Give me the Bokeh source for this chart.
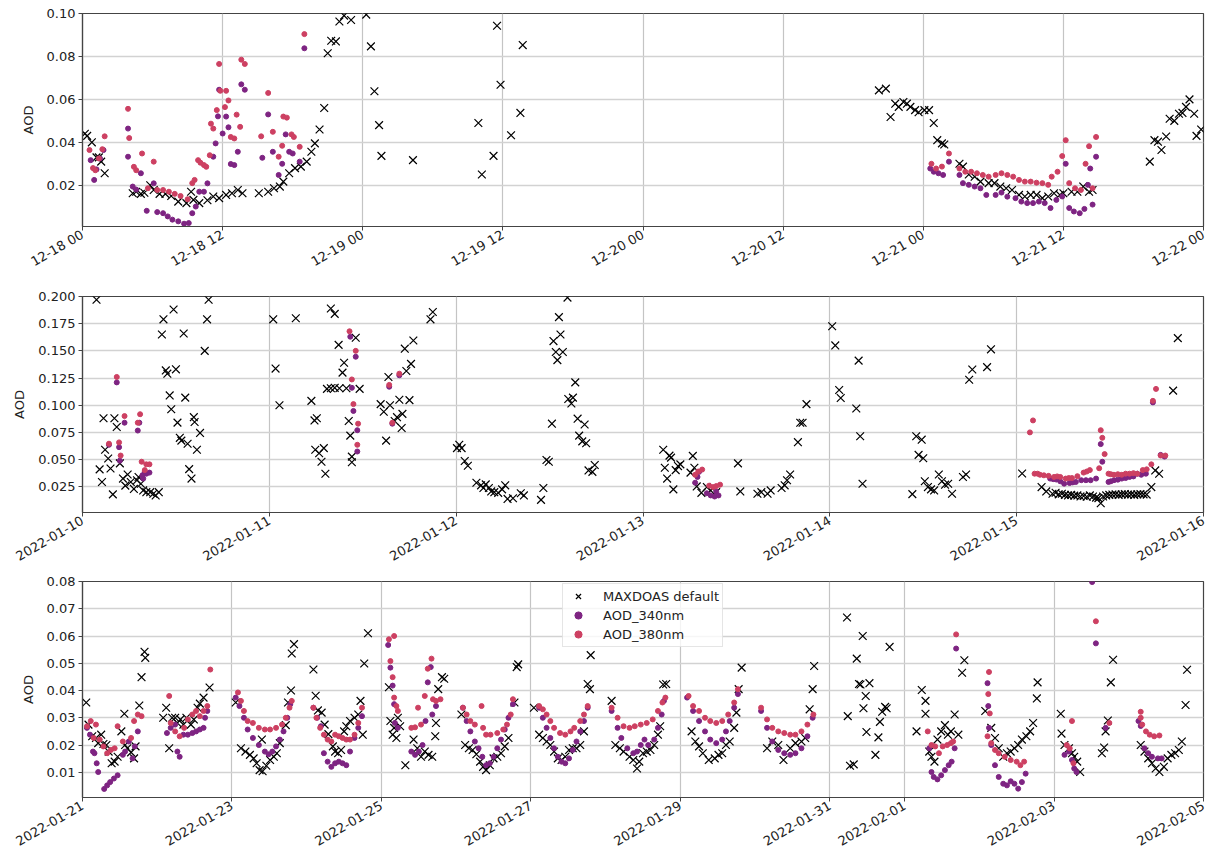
import pandas as pd
from math import pi
from bokeh.plotting import figure
from bokeh.layouts import column
from bokeh.models import (Range1d, FixedTicker, DatetimeTickFormatter,
                          NumeralTickFormatter, Legend, LegendItem)
from bokeh.embed import file_html
from bokeh.resources import INLINE

# ---------------- Panel 1: 2021-12-18 .. 2021-12-22 (hours since 12-18 00) -------------
p1_base = "2021-12-18 00:00"
p1_max_h = [0.2, 0.4, 0.8, 1.2, 1.4, 1.6, 1.9,
            4.3, 4.6, 5.0, 5.3, 5.8, 6.1, 6.6, 7.1, 7.6, 8.2, 8.9, 9.3, 9.5, 10.0, 10.7, 11.2, 11.7, 12.3, 12.8, 13.3, 13.7,
            15.1, 15.9, 16.4, 16.9, 17.2, 17.7, 18.2, 18.7, 19.2, 19.6, 19.9, 20.3, 20.7, 21.0, 21.3, 21.7, 22.0, 22.4, 23.0,
            24.3, 24.7, 25.0, 25.4, 25.6, 28.3, 33.9, 34.2, 35.2, 35.5, 35.8, 36.7, 37.5, 37.7,
            68.2, 68.8, 69.2, 69.6, 69.9, 70.3, 70.6, 70.9, 71.3, 71.6, 72.1, 72.5, 72.9, 73.2, 73.6, 73.8,
            75.1, 75.4, 75.9, 76.4, 76.9, 77.6, 78.1, 78.6, 79.1, 79.6, 80.2, 80.7, 81.2, 81.7, 82.2, 82.7, 83.2, 83.7, 84.0, 84.7, 85.2, 85.7, 86.2, 86.5,
            91.4, 91.8, 92.1, 92.4, 92.8, 93.1, 93.5, 93.9, 94.2, 94.5, 94.8, 95.2, 95.4, 95.8]
p1_max_v = [0.044, 0.043, 0.040, 0.033, 0.033, 0.031, 0.0256,
            0.0163, 0.017, 0.016, 0.0165, 0.020, 0.0178, 0.016, 0.016, 0.015, 0.0124, 0.0117, 0.017, 0.0132, 0.0117, 0.013, 0.0148, 0.014, 0.0155, 0.0163, 0.0178, 0.0163,
            0.0163, 0.017, 0.0186, 0.0194, 0.0217, 0.0256, 0.028, 0.0287, 0.031, 0.0356, 0.0395, 0.046, 0.056, 0.0815, 0.0873, 0.087, 0.0963, 0.099, 0.097,
            0.0995, 0.0847, 0.0638, 0.048, 0.0337, 0.0317, 0.049, 0.025, 0.0337, 0.0943, 0.0668, 0.0433, 0.0537, 0.0853,
            0.0642, 0.065, 0.0518, 0.058, 0.0565, 0.0588, 0.058, 0.0565, 0.055, 0.054, 0.055, 0.055, 0.049, 0.041, 0.0395, 0.039,
            0.030, 0.0287, 0.025, 0.024, 0.0217, 0.021, 0.021, 0.0194, 0.0186, 0.0178, 0.0155, 0.0148, 0.0155, 0.0155, 0.014, 0.0148, 0.0163, 0.0155, 0.0163, 0.017, 0.017, 0.0194, 0.017, 0.0178,
            0.031, 0.041, 0.0403, 0.0364, 0.0427, 0.051, 0.050, 0.0533, 0.0537, 0.0565, 0.060, 0.0533, 0.043, 0.046]
p1_340_h = [0.7, 1.0, 1.2, 1.5, 1.8,
            3.9, 3.9, 4.3, 4.6, 5.0, 5.5, 6.1, 6.4, 6.9, 7.3, 7.7, 8.2, 8.7, 9.1, 9.4, 9.7, 10.0, 10.4, 10.7, 11.2, 11.4, 11.6, 11.7, 12.0, 12.3, 12.5, 12.7, 13.0, 13.3, 13.6, 13.9,
            15.4, 15.9, 16.3, 16.8, 17.1, 17.4, 17.7, 18.0, 18.6, 19.0,
            72.6, 72.9, 73.3, 73.7, 74.2, 75.1, 75.4, 75.9, 76.4, 76.9, 77.4, 78.2, 78.7, 79.2, 79.9, 80.4, 80.9, 81.4, 81.9, 82.4, 82.9, 83.4, 83.9, 84.2, 84.5, 84.9, 85.4, 85.8, 86.1, 86.3, 86.5, 86.8]
p1_340_v = [0.0317, 0.0225, 0.0274, 0.0325, 0.0364,
            0.0464, 0.0333, 0.0194, 0.018, 0.0256, 0.0081, 0.0209, 0.0075, 0.007, 0.0055, 0.004, 0.0032, 0.0021, 0.0024, 0.007, 0.0101, 0.017, 0.017, 0.0209, 0.0333, 0.0395, 0.0521, 0.0645, 0.0441, 0.052, 0.047, 0.0299, 0.0294, 0.0356, 0.067, 0.0645,
            0.0328, 0.053, 0.0356, 0.0248, 0.030, 0.0437, 0.0356, 0.0348, 0.031, 0.0838,
            0.0278, 0.0263, 0.0256, 0.0248, 0.031, 0.0248, 0.021, 0.0202, 0.0194, 0.0186, 0.0155, 0.0155, 0.0166, 0.0147, 0.014, 0.0124, 0.0117, 0.0117, 0.0124, 0.0117, 0.0094, 0.0132, 0.0148, 0.030, 0.0094, 0.0078, 0.007, 0.009, 0.0202, 0.0278, 0.011, 0.0333]
p1_380_h = [0.6, 0.9, 1.1, 1.4, 1.7, 1.9,
            3.9, 4.0, 4.4, 4.6, 5.1, 5.6, 6.1, 6.4, 6.9, 7.4, 7.9, 8.4, 9.0, 9.4, 9.6, 9.9, 10.1, 10.4, 10.6, 10.9, 11.0, 11.2, 11.5, 11.7, 11.8, 12.2, 12.3, 12.5, 12.7, 13.0, 13.2, 13.5, 13.6, 13.9,
            15.3, 15.9, 16.3, 16.8, 17.1, 17.2, 17.5, 17.9, 18.1, 18.6, 19.0,
            72.7, 73.1, 73.6, 74.2, 75.1, 75.6, 76.1, 76.6, 77.1, 77.6, 78.2, 78.7, 79.2, 79.7, 80.2, 80.7, 81.2, 81.7, 82.2, 82.7, 83.0, 83.5, 83.9, 84.2, 84.5, 85.0, 85.5, 85.9, 86.2, 86.5, 86.8]
p1_380_v = [0.0364, 0.028, 0.027, 0.0325, 0.0368, 0.0428,
            0.0556, 0.042, 0.0286, 0.027, 0.0348, 0.0186, 0.031, 0.0178, 0.0178, 0.017, 0.016, 0.015, 0.0135, 0.021, 0.0225, 0.0317, 0.0305, 0.0294, 0.0286, 0.034, 0.0487, 0.0464, 0.055, 0.0765, 0.064, 0.0564, 0.064, 0.0595, 0.0425, 0.0418, 0.0529, 0.0472, 0.0785, 0.0765,
            0.0428, 0.063, 0.0449, 0.0333, 0.0384, 0.052, 0.0515, 0.0437, 0.0425, 0.0379, 0.0904,
            0.030, 0.0278, 0.0287, 0.0348, 0.0278, 0.0263, 0.0263, 0.0256, 0.0248, 0.024, 0.0248, 0.0256, 0.0248, 0.024, 0.0225, 0.0217, 0.0217, 0.0212, 0.021, 0.0202, 0.024, 0.0263, 0.0336, 0.041, 0.021, 0.0186, 0.0178, 0.030, 0.0382, 0.0186, 0.0425]

# ---------------- Panel 2: 2022-01-10 .. 2022-01-16 (hours since 01-10 00) -------------
p2_base = "2022-01-10 00:00"
p2_max_h = [1.8, 2.2, 2.5, 2.7, 2.9, 3.3, 3.6, 3.9, 4.1, 4.4, 4.8, 5.2, 5.5, 5.8, 6.2, 6.6, 7.0, 7.2, 7.5, 7.8, 8.2, 8.7, 9.1, 9.4, 9.8,
            10.2, 10.4, 10.7, 10.9, 11.2, 11.4, 11.7, 12.0, 12.2, 12.5, 12.7, 13.0, 13.2, 13.5, 13.7, 14.0, 14.3, 14.4, 14.7, 15.1, 15.7, 16.0, 16.2,
            24.5, 24.8, 25.3, 27.4, 29.4, 29.8, 29.9, 30.1, 30.4, 30.7, 31.0, 31.2, 31.4, 31.9, 31.9, 32.4, 32.4, 32.9, 33.0, 33.4, 33.6, 33.9, 34.2, 34.4, 34.6,
            34.6, 35.1, 35.6, 38.3, 38.7, 39.0, 39.3, 39.5, 40.1, 40.4, 40.7, 41.0, 41.1, 41.4, 41.6, 42.0, 42.2, 42.5, 44.7, 45.0,
            48.1, 48.4, 48.7, 49.1, 49.5, 50.6, 51.2, 51.5, 51.8, 52.2, 52.5, 52.9, 53.4, 53.9, 54.3, 54.6, 55.3, 56.3, 56.7, 58.9,
            59.2, 59.6, 59.9, 60.3, 60.5, 60.8, 61.0, 61.2, 61.4, 61.7, 62.3, 62.4, 62.8, 63.0, 63.3, 63.6, 63.8, 64.2, 64.5, 64.7, 65.0, 65.5, 65.8,
            74.6, 74.8, 75.1, 75.4, 75.6, 75.9, 76.2, 76.5, 76.8, 78.1, 78.4, 78.6, 78.9, 79.5, 80.2, 80.7, 81.4, 84.2, 84.5, 86.7,
            87.2, 88.0, 88.4, 89.8, 90.2, 90.5, 90.9, 91.9, 92.2, 92.5, 93.0,
            96.3, 96.7, 97.2, 97.4, 99.4, 99.7, 99.9, 100.2, 106.6, 107.1, 107.4, 107.8, 108.0, 108.2, 108.6, 109.0, 109.4, 110.0, 110.4, 110.8,
            111.2, 111.7, 113.1, 113.5, 113.9, 114.3, 116.2, 116.7,
            120.7, 123.2, 123.8, 124.6, 125.0, 125.4, 125.8, 126.2, 126.6, 127.0, 127.4, 127.8, 128.2, 128.6, 129.0, 129.4, 129.8, 130.2, 130.5, 130.8,
            131.1, 131.5, 131.9, 132.3, 132.7, 133.1, 133.5, 133.9, 134.3, 134.7, 135.1, 135.5, 135.9, 136.3, 136.7, 137.3, 137.8, 138.3, 140.1, 140.7]
p2_max_v = [0.197, 0.041, 0.0294, 0.088, 0.059, 0.051, 0.0418, 0.018, 0.088, 0.080, 0.0465, 0.0325, 0.026, 0.0362, 0.0294, 0.023, 0.031, 0.034, 0.0278, 0.0216, 0.020, 0.020, 0.0185, 0.017, 0.020,
            0.165, 0.179, 0.132, 0.129, 0.109, 0.0963, 0.188, 0.133, 0.084, 0.070, 0.0674, 0.166, 0.107, 0.0646, 0.0412, 0.0325, 0.089, 0.0845, 0.059, 0.0745, 0.150, 0.179, 0.197,
            0.179, 0.1337, 0.100, 0.180, 0.104, 0.086, 0.059, 0.088, 0.0558, 0.048, 0.0605, 0.037, 0.115, 0.1156, 0.189, 0.184, 0.116, 0.1555, 0.1156, 0.130, 0.139, 0.1156, 0.0855, 0.072, 0.0527,
            0.0475, 0.162, 0.115, 0.101, 0.094, 0.0674, 0.126, 0.100, 0.0855, 0.089, 0.105, 0.079, 0.092, 0.152, 0.1315, 0.1047, 0.138, 0.1595, 0.179, 0.1857,
            0.0605, 0.0636, 0.0605, 0.0487, 0.0443, 0.0287, 0.0263, 0.0238, 0.0272, 0.0238, 0.0207, 0.020, 0.0194, 0.0226, 0.0263, 0.0138, 0.0144, 0.019, 0.017, 0.0129,
            0.0238, 0.0496, 0.048, 0.083, 0.159, 0.149, 0.1415, 0.181, 0.165, 0.149, 0.199, 0.1057, 0.1016, 0.107, 0.121, 0.0876, 0.072, 0.0667, 0.0823, 0.065, 0.040, 0.0387, 0.045,
            0.059, 0.0425, 0.0325, 0.0536, 0.0518, 0.0226, 0.0403, 0.044, 0.0456, 0.038, 0.0534, 0.0425, 0.0253, 0.0194, 0.0247, 0.0216, 0.020, 0.0465, 0.0207, 0.0185,
            0.020, 0.0185, 0.0216, 0.0238, 0.0263, 0.031, 0.0363, 0.066, 0.0839, 0.0839, 0.101,
            0.1726, 0.155, 0.114, 0.1066, 0.097, 0.141, 0.0714, 0.0278, 0.0182, 0.0714, 0.0543, 0.0683, 0.0512, 0.030, 0.0247, 0.0226, 0.0216, 0.0363, 0.030, 0.0269,
            0.0278, 0.0185, 0.034, 0.0363, 0.1234, 0.1328, 0.135, 0.1514,
            0.0372, 0.0247, 0.0207, 0.0185, 0.0195, 0.018, 0.0185, 0.0175, 0.017, 0.0175, 0.0168, 0.017, 0.016, 0.0165, 0.0158, 0.017, 0.016, 0.015, 0.0145, 0.0098,
            0.016, 0.017, 0.0175, 0.0178, 0.018, 0.0175, 0.018, 0.0182, 0.0178, 0.018, 0.0175, 0.018, 0.0182, 0.018, 0.0178, 0.0247, 0.040, 0.037, 0.1134, 0.1617]
p2_340_h = [3.4, 4.4, 4.7, 4.8, 5.4, 7.1, 7.3, 7.7, 7.8, 8.0, 8.2, 8.6,
            34.4, 34.6, 34.8, 35.1, 35.3, 35.3, 39.4, 39.8, 40.7,
            78.7, 79.0, 79.2, 80.2, 80.7, 81.2, 81.4, 81.7,
            124.3, 125.1, 126.1, 126.8, 127.6, 128.3, 129.5, 130.8, 131.0, 131.8, 132.5, 133.5, 134.5, 135.5, 137.5, 138.5, 139.0,
            124.7, 125.6, 127.2, 128.9, 130.2, 132.1, 133.0, 134.0, 135.0, 136.0, 136.6]
p2_340_v = [0.0636, 0.121, 0.0614, 0.049, 0.0839, 0.0767, 0.0839, 0.0356, 0.0325, 0.0387, 0.037, 0.038,
            0.163, 0.116, 0.0947, 0.1446, 0.077, 0.0574, 0.117, 0.083, 0.1275,
            0.0287, 0.034, 0.0387, 0.019, 0.017, 0.016, 0.0207, 0.017,
            0.0325, 0.0316, 0.0278, 0.0284, 0.0294, 0.031, 0.031, 0.0642, 0.048, 0.0294, 0.031, 0.0325, 0.034, 0.037, 0.1026, 0.0543, 0.0527,
            0.032, 0.030, 0.029, 0.031, 0.0325, 0.030, 0.0315, 0.033, 0.0345, 0.036, 0.037]
p2_380_h = [3.4, 4.4, 4.7, 4.9, 5.4, 7.1, 7.4, 7.6, 8.0, 8.2, 8.6,
            34.3, 34.6, 34.8, 35.1, 35.4, 35.3, 39.4, 39.8, 40.7,
            78.7, 79.1, 79.6, 80.5, 81.0, 81.4, 81.9,
            121.7, 122.1, 122.3, 122.7, 124.1, 124.8, 125.6, 126.3, 127.1, 127.8, 128.6, 129.4, 130.6, 130.8, 131.0,
            131.3, 131.8, 132.5, 133.5, 134.5, 135.5, 136.2, 137.3, 137.5, 137.9, 138.5, 139.1,
            123.0, 123.5, 125.2, 126.7, 129.0, 132.1, 133.0, 134.0, 135.0, 136.7]
p2_380_v = [0.0646, 0.126, 0.0658, 0.0537, 0.090, 0.0839, 0.0917, 0.048, 0.0403, 0.0456, 0.0456,
            0.168, 0.1237, 0.101, 0.150, 0.083, 0.0636, 0.1187, 0.0839, 0.129,
            0.036, 0.039, 0.0408, 0.026, 0.0247, 0.0256, 0.0269,
            0.075, 0.086, 0.037, 0.037, 0.035, 0.034, 0.034, 0.0325, 0.033, 0.0347, 0.038, 0.0403, 0.042, 0.077, 0.070,
            0.055, 0.037, 0.036, 0.036, 0.037, 0.037, 0.0403, 0.0456, 0.104, 0.115, 0.0537, 0.0537,
            0.036, 0.0355, 0.0345, 0.033, 0.039, 0.0365, 0.0365, 0.037, 0.0375, 0.041]

# ---------------- Panel 3: 2022-01-21 .. 2022-02-05 (days since 01-21) -------------
p3_base = "2022-01-21 00:00"
p3_max_d = [0.05, 0.08, 0.13, 0.18, 0.21, 0.25, 0.28, 0.32, 0.35, 0.39, 0.43, 0.47, 0.52, 0.56, 0.57, 0.60, 0.65, 0.69, 0.71, 0.76, 0.79, 0.83, 0.84,
            1.08, 1.12, 1.16, 1.20, 1.24, 1.27, 1.31, 1.35, 1.39, 1.45, 1.49, 1.54, 1.57, 1.62, 1.70,
            2.05, 2.12, 2.18, 2.24, 2.29, 2.33, 2.37, 2.40, 2.41, 2.46, 2.51, 2.56, 2.60, 2.64, 2.72, 2.75, 2.79, 2.80, 2.83,
            3.09, 3.12, 3.15, 3.20, 3.24, 3.29, 3.35, 3.38, 3.42, 3.46, 3.50, 3.53, 3.58, 3.64, 3.69, 3.72, 3.75, 3.77, 3.82,
            4.10, 4.12, 4.15, 4.17, 4.20, 4.22, 4.25, 4.32, 4.43, 4.48, 4.53, 4.58, 4.63, 4.68, 4.72, 4.73, 4.76, 4.81, 4.84,
            5.07, 5.12, 5.17, 5.22, 5.27, 5.32, 5.36, 5.40, 5.45, 5.50, 5.55, 5.60, 5.65, 5.70, 5.78, 5.81, 5.83,
            6.04, 6.11, 6.16, 6.21, 6.26, 6.31, 6.36, 6.41, 6.46, 6.51, 6.56, 6.61, 6.66, 6.71, 6.76, 6.79, 6.80,
            7.08, 7.13, 7.19, 7.24, 7.32, 7.37, 7.42, 7.45, 7.50, 7.55, 7.60, 7.65, 7.70, 7.73, 7.77, 7.81,
            8.15, 8.20, 8.25, 8.30, 8.38, 8.46, 8.51, 8.56, 8.61, 8.66, 8.72, 8.75, 8.78, 8.82,
            9.16, 9.23, 9.31, 9.38, 9.47, 9.54, 9.62, 9.67, 9.73, 9.77, 9.79,
            10.23, 10.24, 10.27, 10.32, 10.36, 10.39, 10.41, 10.44, 10.45, 10.48, 10.49, 10.53, 10.61, 10.65, 10.67, 10.70, 10.74, 10.76, 10.80,
            11.16, 11.23, 11.28, 11.28, 11.33, 11.36, 11.40, 11.44, 11.49, 11.54, 11.58, 11.62, 11.67, 11.72, 11.77, 11.80,
            12.08, 12.16, 12.21, 12.26, 12.32, 12.37, 12.42, 12.47, 12.52, 12.57, 12.63, 12.68, 12.72, 12.77, 12.78,
            13.09, 13.10, 13.14, 13.20, 13.24, 13.27, 13.31, 13.35, 13.64, 13.67, 13.69, 13.72, 13.76, 13.79,
            14.16, 14.21, 14.26, 14.31, 14.36, 14.41, 14.47, 14.52, 14.57, 14.62, 14.67, 14.71, 14.76, 14.78]
p3_max_v = [0.0356, 0.0275, 0.0232, 0.0226, 0.0207, 0.0238, 0.0204, 0.020, 0.0176, 0.0133, 0.0139, 0.0157, 0.025, 0.0315, 0.020, 0.0188, 0.0173, 0.0151, 0.0195, 0.0345, 0.0449, 0.0542, 0.052,
            0.030, 0.0337, 0.0188, 0.030, 0.030, 0.0281, 0.0294, 0.0275, 0.030, 0.0275, 0.0294, 0.0337, 0.0352, 0.0374, 0.0411,
            0.0356, 0.0188, 0.0176, 0.0164, 0.0151, 0.0133, 0.0108, 0.022, 0.0104, 0.0124, 0.0145, 0.0157, 0.017, 0.0207, 0.0273, 0.0356, 0.040, 0.0536, 0.057,
            0.0477, 0.0381, 0.0327, 0.0319, 0.0275, 0.024, 0.0195, 0.0176, 0.017, 0.0182, 0.025, 0.0269, 0.0288, 0.030, 0.0312, 0.0362, 0.0238, 0.0499, 0.061,
            0.0412, 0.0288, 0.0238, 0.0263, 0.0226, 0.030, 0.0269, 0.0126, 0.022, 0.0188, 0.0157, 0.0176, 0.0164, 0.0157, 0.0232, 0.0281, 0.0405, 0.0449, 0.0443,
            0.0312, 0.020, 0.0188, 0.0182, 0.0166, 0.0139, 0.012, 0.0108, 0.0126, 0.0151, 0.0157, 0.017, 0.0195, 0.0226, 0.0356, 0.0486, 0.0496,
            0.0337, 0.0238, 0.0226, 0.0213, 0.020, 0.0176, 0.0151, 0.0145, 0.0157, 0.0182, 0.0188, 0.0188, 0.020, 0.025, 0.0424, 0.0405, 0.053,
            0.0362, 0.020, 0.0188, 0.0176, 0.0157, 0.0145, 0.0114, 0.0139, 0.017, 0.0176, 0.0182, 0.020, 0.0238, 0.0269, 0.0422, 0.0424,
            0.025, 0.0213, 0.0195, 0.017, 0.0145, 0.0151, 0.0164, 0.017, 0.020, 0.0213, 0.0263, 0.0319, 0.0405, 0.0484,
            0.0188, 0.0213, 0.020, 0.0145, 0.0188, 0.0207, 0.0213, 0.0226, 0.0331, 0.0405, 0.049,
            0.0668, 0.0306, 0.0124, 0.0129, 0.0517, 0.0424, 0.0422, 0.060, 0.0335, 0.038, 0.0248, 0.0427, 0.0164, 0.0228, 0.0285, 0.0322, 0.034, 0.0335, 0.056,
            0.025, 0.0402, 0.0362, 0.0315, 0.0176, 0.0157, 0.0139, 0.022, 0.025, 0.0273, 0.0238, 0.025, 0.0312, 0.0238, 0.0465, 0.0511,
            0.0325, 0.0263, 0.0226, 0.0188, 0.0157, 0.017, 0.0176, 0.0188, 0.020, 0.022, 0.0232, 0.025, 0.0281, 0.0371, 0.043,
            0.0315, 0.0242, 0.020, 0.0188, 0.017, 0.0157, 0.0139, 0.0101, 0.017, 0.0191, 0.025, 0.029, 0.043, 0.0513,
            0.020, 0.0176, 0.0151, 0.0133, 0.0114, 0.0101, 0.012, 0.0151, 0.0164, 0.017, 0.0182, 0.0213, 0.0347, 0.0476]
p3_340_d = [0.06, 0.10, 0.14, 0.16, 0.19, 0.21, 0.29, 0.33, 0.37, 0.42, 0.47, 0.54, 0.57, 0.62, 0.67, 0.70, 0.74,
            1.13, 1.18, 1.24, 1.27, 1.30, 1.35, 1.41, 1.47, 1.52, 1.57, 1.62, 1.64, 1.67,
            2.05, 2.10, 2.16, 2.21, 2.28, 2.36, 2.44, 2.49, 2.54, 2.59, 2.64, 2.69, 2.74, 2.78,
            3.09, 3.14, 3.19, 3.23, 3.28, 3.33, 3.38, 3.43, 3.48, 3.53, 3.58, 3.64, 3.69, 3.74,
            4.09, 4.12, 4.15, 4.17, 4.18, 4.22, 4.40, 4.45, 4.50, 4.55, 4.59, 4.62, 4.66, 4.68, 4.73,
            5.09, 5.14, 5.19, 5.25, 5.30, 5.35, 5.40, 5.45, 5.50, 5.55, 5.60, 5.65, 5.70, 5.76,
            6.11, 6.16, 6.21, 6.26, 6.31, 6.36, 6.41, 6.46, 6.51, 6.56, 6.61, 6.66, 6.71, 6.76,
            7.08, 7.16, 7.21, 7.29, 7.37, 7.42, 7.47, 7.52, 7.57, 7.65, 7.70, 7.75, 7.78,
            8.09, 8.17, 8.25, 8.33, 8.40, 8.48, 8.56, 8.61, 8.66, 8.72, 8.77,
            9.08, 9.16, 9.23, 9.31, 9.39, 9.47, 9.54, 9.62, 9.70, 9.77,
            11.33, 11.36, 11.39, 11.44, 11.49, 11.54, 11.59, 11.63, 11.67, 11.69,
            12.11, 12.12, 12.13, 12.16, 12.21, 12.26, 12.32, 12.37, 12.42, 12.47, 12.52, 12.57, 12.62,
            13.14, 13.20, 13.24, 13.27, 13.30, 13.51, 13.56, 13.69,
            14.13, 14.16, 14.21, 14.26, 14.31, 14.39, 14.44]
p3_340_v = [0.0263, 0.0238, 0.0176, 0.017, 0.0133, 0.0101, 0.0039, 0.0052, 0.0064, 0.0077, 0.0089, 0.0164, 0.0176, 0.0213, 0.0151, 0.0195, 0.025,
            0.0244, 0.0263, 0.0275, 0.0176, 0.0157, 0.0238, 0.0238, 0.0244, 0.025, 0.0257, 0.0263, 0.030, 0.0325,
            0.0374, 0.0343, 0.030, 0.0257, 0.0226, 0.020, 0.0176, 0.0166, 0.0176, 0.0195, 0.022, 0.025, 0.030, 0.035,
            0.0337, 0.030, 0.0269, 0.017, 0.0139, 0.012, 0.0133, 0.0139, 0.0133, 0.0126, 0.0176, 0.0226, 0.0263, 0.0306,
            0.0567, 0.0484, 0.0418, 0.035, 0.0281, 0.0263, 0.0176, 0.0164, 0.0176, 0.020, 0.0288, 0.043, 0.0486, 0.0312, 0.0343,
            0.0337, 0.0288, 0.025, 0.0213, 0.0188, 0.0157, 0.0126, 0.0133, 0.0157, 0.0188, 0.022, 0.0257, 0.030, 0.035,
            0.0337, 0.030, 0.0263, 0.0226, 0.0188, 0.0157, 0.0139, 0.0133, 0.0151, 0.0182, 0.0213, 0.025, 0.0288, 0.0337,
            0.0325, 0.0263, 0.0226, 0.0188, 0.017, 0.0176, 0.020, 0.022, 0.020, 0.022, 0.0263, 0.0312, 0.0362,
            0.0374, 0.0325, 0.0288, 0.025, 0.022, 0.0207, 0.022, 0.025, 0.0288, 0.0337, 0.0387,
            0.0325, 0.0263, 0.0213, 0.0182, 0.017, 0.0164, 0.017, 0.0188, 0.0232, 0.030,
            0.0188, 0.0101, 0.0083, 0.0074, 0.0089, 0.0108, 0.0126, 0.0139, 0.0188, 0.0554,
            0.0427, 0.0343, 0.0263, 0.020, 0.0126, 0.0083, 0.0058, 0.0052, 0.0067, 0.0058, 0.004, 0.0064, 0.0095,
            0.0164, 0.0176, 0.0145, 0.0114, 0.0101, 0.0798, 0.0573, 0.0263,
            0.0288, 0.027, 0.0188, 0.017, 0.0157, 0.0151, 0.0151]
p3_380_d = [0.06, 0.11, 0.15, 0.18, 0.23, 0.28, 0.33, 0.38, 0.43, 0.47, 0.54, 0.65, 0.69, 0.74, 0.79,
            1.16, 1.18, 1.24, 1.30, 1.36, 1.41, 1.47, 1.52, 1.57, 1.62, 1.67, 1.71,
            2.08, 2.12, 2.16, 2.21, 2.28, 2.36, 2.44, 2.51, 2.59, 2.67, 2.72, 2.77, 2.80,
            3.09, 3.13, 3.18, 3.23, 3.28, 3.33, 3.38, 3.43, 3.48, 3.53, 3.58, 3.64, 3.69, 3.74,
            4.10, 4.12, 4.17, 4.15, 4.17, 4.20, 4.22, 4.40, 4.45, 4.49, 4.53, 4.58, 4.62, 4.67, 4.69, 4.73, 4.79,
            5.09, 5.14, 5.19, 5.25, 5.34, 5.36, 5.40, 5.46, 5.55, 5.63, 5.68, 5.73, 5.76,
            6.11, 6.16, 6.21, 6.26, 6.31, 6.39, 6.46, 6.53, 6.58, 6.66, 6.71, 6.76,
            7.08, 7.16, 7.24, 7.32, 7.39, 7.47, 7.55, 7.63, 7.70, 7.76, 7.80,
            8.11, 8.17, 8.25, 8.33, 8.40, 8.48, 8.56, 8.64, 8.72, 8.77,
            9.08, 9.16, 9.23, 9.31, 9.39, 9.47, 9.54, 9.62, 9.70, 9.78,
            11.31, 11.36, 11.41, 11.46, 11.51, 11.57, 11.62, 11.65, 11.69,
            12.11, 12.12, 12.13, 12.14, 12.16, 12.21, 12.26, 12.34, 12.42, 12.50, 12.55, 12.60,
            13.17, 13.21, 13.24, 13.26, 13.56, 13.74,
            14.16, 14.16, 14.18, 14.23, 14.28, 14.34, 14.41]
p3_380_v = [0.0269, 0.0288, 0.0226, 0.0275, 0.022, 0.0195, 0.017, 0.0182, 0.0188, 0.0269, 0.0213, 0.0226, 0.0288, 0.0312, 0.0306,
            0.038, 0.0281, 0.025, 0.0232, 0.0263, 0.0294, 0.0312, 0.0325, 0.0306, 0.0325, 0.0343, 0.0477,
            0.0393, 0.0362, 0.0325, 0.0288, 0.0281, 0.0263, 0.0257, 0.0257, 0.0263, 0.0275, 0.030, 0.0337, 0.0362,
            0.0337, 0.030, 0.0263, 0.0238, 0.022, 0.0213, 0.0238, 0.0232, 0.0226, 0.022, 0.022, 0.0238, 0.0281, 0.0337,
            0.0588, 0.0508, 0.060, 0.0449, 0.0374, 0.0343, 0.0325, 0.0263, 0.0265, 0.0337, 0.0275, 0.038, 0.048, 0.0517, 0.0368, 0.0362, 0.0368,
            0.0337, 0.0312, 0.0288, 0.0275, 0.0343, 0.0263, 0.0238, 0.0238, 0.0244, 0.0257, 0.0275, 0.0312, 0.0368,
            0.0343, 0.0331, 0.0312, 0.0288, 0.0263, 0.0244, 0.0238, 0.025, 0.0263, 0.0288, 0.0312, 0.0343,
            0.0337, 0.030, 0.0269, 0.0263, 0.0269, 0.0275, 0.0281, 0.0294, 0.0325, 0.0356, 0.0374,
            0.038, 0.0343, 0.0325, 0.030, 0.0288, 0.0281, 0.0288, 0.0312, 0.0356, 0.0405,
            0.0337, 0.0294, 0.0263, 0.025, 0.0244, 0.0238, 0.0238, 0.025, 0.0275, 0.0312,
            0.025, 0.020, 0.0195, 0.017, 0.0195, 0.020, 0.0207, 0.0213, 0.0606,
            0.0232, 0.0387, 0.0468, 0.0316, 0.0207, 0.0182, 0.017, 0.0157, 0.0145, 0.0139, 0.0126, 0.0139,
            0.020, 0.0188, 0.0288, 0.0133, 0.0654, 0.0281,
            0.0322, 0.030, 0.0275, 0.025, 0.0238, 0.0232, 0.0235]

series_labels = ["MAXDOAS default", "AOD_340nm", "AOD_380nm"]
p1_xticks = ["2021-12-18 00:00", "2021-12-18 12:00", "2021-12-19 00:00", "2021-12-19 12:00",
             "2021-12-20 00:00", "2021-12-20 12:00", "2021-12-21 00:00", "2021-12-21 12:00", "2021-12-22 00:00"]
p2_xticks = ["2022-01-10", "2022-01-11", "2022-01-12", "2022-01-13", "2022-01-14", "2022-01-15", "2022-01-16"]
p3_xticks = ["2022-01-21", "2022-01-23", "2022-01-25", "2022-01-27", "2022-01-29", "2022-01-31",
             "2022-02-01", "2022-02-03", "2022-02-05"]
p1_yticks = [0.02, 0.04, 0.06, 0.08, 0.10]
p2_yticks = [0.025, 0.050, 0.075, 0.100, 0.125, 0.150, 0.175, 0.200]
p3_yticks = [0.01, 0.02, 0.03, 0.04, 0.05, 0.06, 0.07, 0.08]

C_MAX = "black"
C_340 = "#7e2482"
C_380 = "#cd4062"
FONT = "DejaVu Sans"
FS = "13px"


def ms(ts):
    return pd.Timestamp(ts).value / 1e6


def times(base, offs, unit):
    return pd.Timestamp(base) + pd.to_timedelta(offs, unit=unit)


def make_fig(height, xr, yr, xticks, xfmt, yticks, yfmt, top, bottom):
    p = figure(width=1208, height=height, x_axis_type="datetime",
               x_range=Range1d(ms(xr[0]), ms(xr[1])), y_range=Range1d(*yr),
               output_backend="svg", toolbar_location=None,
               min_border_left=82, min_border_right=5, min_border_top=top,
               min_border_bottom=bottom)
    p.background_fill_color = "white"
    p.border_fill_color = "white"
    p.outline_line_color = "#444444"
    p.outline_line_width = 1.2
    p.xaxis.ticker = FixedTicker(ticks=[ms(t) for t in xticks])
    fmt = {k: xfmt for k in ["milliseconds", "seconds", "minsec", "minutes",
                             "hourmin", "hours", "days", "months", "years"]}
    p.xaxis.formatter = DatetimeTickFormatter(**fmt)
    p.xaxis.major_label_orientation = pi / 6
    p.yaxis.ticker = FixedTicker(ticks=yticks)
    p.yaxis.formatter = NumeralTickFormatter(format=yfmt)
    p.yaxis.axis_label = "AOD"
    p.yaxis.axis_label_text_font = FONT
    p.yaxis.axis_label_text_font_size = FS
    p.yaxis.axis_label_text_font_style = "normal"
    p.yaxis.axis_label_text_color = "#222222"
    p.yaxis.axis_label_standoff = 8
    for ax in (p.xaxis, p.yaxis):
        ax.major_label_text_font = FONT
        ax.major_label_text_font_size = FS
        ax.major_label_text_color = "#222222"
        ax.major_label_standoff = 3
        ax.axis_line_color = "#444444"
        ax.axis_line_width = 1.2
        ax.major_tick_line_color = "#444444"
        ax.major_tick_in = 0
        ax.major_tick_out = 4
        ax.minor_tick_line_color = None
    p.xgrid.grid_line_color = "#c4c4c4"
    p.xgrid.grid_line_width = 1.2
    p.ygrid.grid_line_color = "#d2d2d2"
    p.ygrid.grid_line_width = 1.6
    return p


def add_series(p, base, unit, mh, mv, ah, av, bh, bv):
    assert len(mh) == len(mv) and len(ah) == len(av) and len(bh) == len(bv)
    r0 = p.scatter(times(base, mh, unit), mv, marker="x", size=11, line_color=C_MAX, line_width=1.2)
    r1 = p.scatter(times(base, ah, unit), av, marker="circle", size=5, fill_color=C_340, line_color=C_340)
    r2 = p.scatter(times(base, bh, unit), bv, marker="circle", size=5, fill_color=C_380, line_color=C_380)
    return [r0, r1, r2]


p1 = make_fig(287, ("2021-12-18", "2021-12-22"), (0.0008, 0.1), p1_xticks, "%m-%d %H",
              p1_yticks, "0.00", 13, 61)
add_series(p1, p1_base, "h", p1_max_h, p1_max_v, p1_340_h, p1_340_v, p1_380_h, p1_380_v)

p2 = make_fig(285, ("2022-01-10", "2022-01-16"), (0.0013, 0.2), p2_xticks, "%Y-%m-%d",
              p2_yticks, "0.000", 9, 60)
add_series(p2, p2_base, "h", p2_max_h, p2_max_v, p2_340_h, p2_340_v, p2_380_h, p2_380_v)

p3 = make_fig(285, ("2022-01-21", "2022-02-05"), (0.00075, 0.08), p3_xticks, "%Y-%m-%d",
              p3_yticks, "0.00", 9, 60)
rs = add_series(p3, p3_base, "D", p3_max_d, p3_max_v, p3_340_d, p3_340_v, p3_380_d, p3_380_v)

legend = Legend(items=[LegendItem(label=l, renderers=[r]) for l, r in zip(series_labels, rs)],
                location=(480, 150))
legend.label_text_font = FONT
legend.label_text_font_size = FS
legend.label_text_color = "#222222"
legend.border_line_color = "#cccccc"
legend.border_line_width = 1
legend.background_fill_color = "white"
legend.background_fill_alpha = 0.8
legend.padding = 3
legend.spacing = 1
legend.margin = 0
legend.glyph_width = 24
legend.glyph_height = 18
legend.label_height = 18
legend.label_standoff = 13
p3.add_layout(legend)

layout = column(p1, p2, p3, spacing=0)
open("out.html", "w").write(file_html(layout, INLINE))
